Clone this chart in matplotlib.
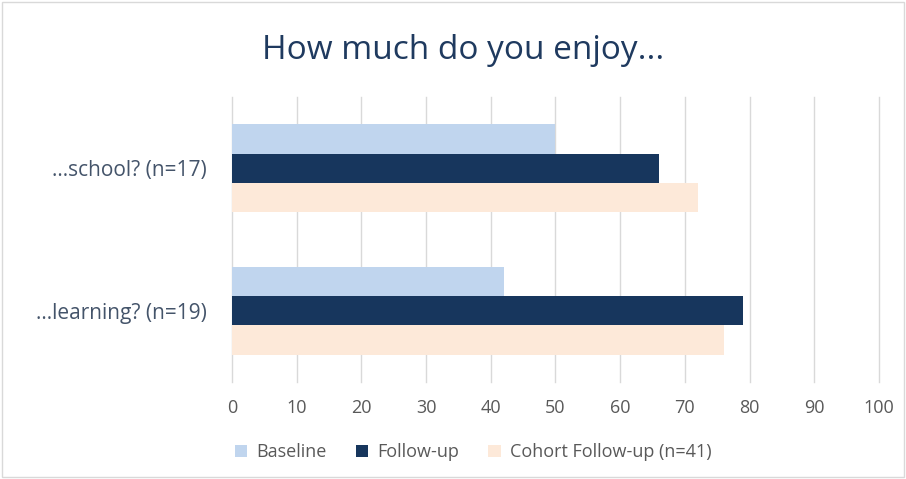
import numpy as np
import matplotlib
matplotlib.use("Agg")
from matplotlib import pyplot as plt
from matplotlib.patches import Rectangle

categories = ["...school? (n=17)", "...learning? (n=19)"]
series_names = ["Baseline", "Follow-up", "Cohort Follow-up (n=41)"]
baseline = [50, 42]
follow_up = [66, 79]
cohort = [72, 76]
x_ticks = [0, 10, 20, 30, 40, 50, 60, 70, 80, 90, 100]

colors = ["#C0D5EE", "#17365D", "#FDE9D9"]

plt.rcParams['font.family'] = ['Open Sans', 'DejaVu Sans']

fig = plt.figure(figsize=(9.06, 4.79), dpi=100)
ax = fig.add_axes([0.2561, 0.2025, 0.714, 0.595])

h = 0.205
ypos = np.arange(len(categories))
for i, vals in enumerate([baseline, follow_up, cohort]):
    ax.barh(ypos + (i - 1) * h, vals, height=h, color=colors[i],
            label=series_names[i], zorder=3)

ax.set_ylim(1.5, -0.5)
ax.set_xlim(0, 100)
ax.set_xticks(x_ticks)
ax.set_yticks(ypos)
ax.set_yticklabels(categories, fontsize=15, color="#44546A")
ax.tick_params(axis="x", labelsize=13, labelcolor="#595959", length=0, pad=12)
ax.tick_params(axis="y", length=0, pad=18)
ax.grid(axis="x", color="#D9D9D9", linewidth=1, zorder=0)
for gl in ax.get_xgridlines():
    gl.set_clip_on(False)
for s in ax.spines.values():
    s.set_visible(False)

fig.text(0.511, 0.895, "How much do you enjoy...", ha="center", va="center",
         fontsize=24, color="#1F3A5F")

leg = fig.legend(loc="center", bbox_to_anchor=(0.522, 0.056), ncol=3,
                 frameon=False, fontsize=13, handlelength=0.7, handleheight=0.7,
                 columnspacing=1.6, handletextpad=0.5)
for t in leg.get_texts():
    t.set_color("#595959")

fig.patches.append(Rectangle((0.002, 0.004), 0.996, 0.992, transform=fig.transFigure,
                             fill=False, edgecolor="#D9D9D9", linewidth=1))

fig.savefig("out.png", dpi=100)
